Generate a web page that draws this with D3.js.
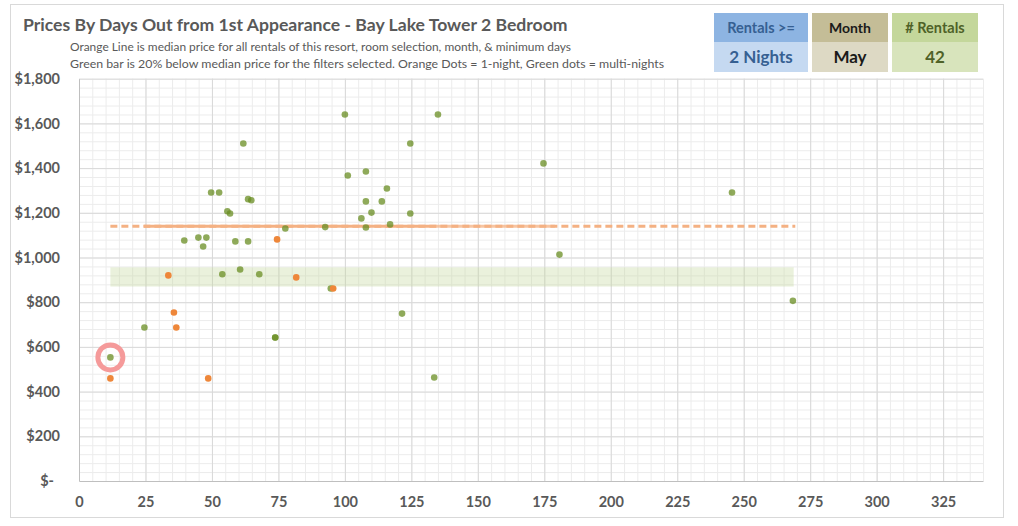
<!DOCTYPE html>
<html>
<head>
<meta charset="utf-8">
<script src="https://cdn.jsdelivr.net/npm/d3@7"></script>
<style>
  html, body { margin: 0; padding: 0; background: #fff; }
  svg { display: block; font-family: Lato, "Open Sans", sans-serif; }
</style>
</head>
<body>
<svg id="chart" width="1018" height="526"></svg>
<script>
// days out / price for 1-night rentals (orange) and multi-night rentals (green)
const oneNightDays   = [11.8, 33.6, 35.7, 36.6, 48.6, 74.5, 81.7, 95.6];
const oneNightPrices = [459, 920, 754, 687, 459, 1081, 911, 861];

const multiNightDays   = [11.8, 24.6, 39.6, 44.9, 46.7, 47.9, 49.7, 52.7, 53.9, 55.8, 56.8, 58.8, 60.6, 61.8,
                          63.6, 63.6, 64.8, 67.8, 73.8, 73.8, 77.6, 92.6, 94.7, 100, 101.1, 106.2, 107.9, 107.9,
                          107.9, 110, 113.9, 115.8, 117, 121.5, 124.6, 124.6, 133.6, 135, 174.7, 180.7, 245.6, 268.5];
const multiNightPrices = [553, 687, 1076, 1089, 1049, 1089, 1291, 1291, 925, 1207, 1197, 1072, 946, 1510,
                          1261, 1072, 1256, 925, 642, 642, 1130, 1136, 861, 1640, 1367, 1175, 1385, 1251,
                          1134, 1201, 1251, 1309, 1148, 749, 1510, 1197, 463, 1640, 1421, 1013, 1291, 806];

const medianPrice = 1140;
const medianSpanDashed = [11.8, 269.4];
const medianSpanSolid = [24.4, 134.5];
const medianSpanFaint = [134.5, 179];
const bandLow = 870, bandHigh = 956;
const bandSpan = [11.8, 268.8];

const highlightDay = 11.8, highlightPrice = 553;

const xTicks = [0, 25, 50, 75, 100, 125, 150, 175, 200, 225, 250, 275, 300, 325];
const yTicks = [0, 200, 400, 600, 800, 1000, 1200, 1400, 1600, 1800];

const titleText = "Prices By Days Out from 1st Appearance - Bay Lake Tower 2 Bedroom";
const subtitleLines = [
  "Orange Line is median price for all rentals of this resort, room selection, month, & minimum days",
  "Green bar is 20% below median price for the filters selected. Orange Dots = 1-night, Green dots = multi-nights"
];

const filterHeads  = ["Rentals >=", "Month", "# Rentals"];
const filterValues = ["2 Nights", "May", "42"];

const svg = d3.select("#chart");

// outer chart border
svg.append("rect")
  .attr("x", 10.5).attr("y", 4.5)
  .attr("width", 993).attr("height", 513)
  .attr("fill", "#fff").attr("stroke", "#d9d9d9");

const x = d3.scaleLinear().domain([0, 340]).range([79, 983]);
const y = d3.scaleLinear().domain([0, 1800]).range([481, 78.7]);

// minor + major gridlines
const grid = svg.append("g");
grid.append("g")
  .attr("transform", `translate(0,${y(0)})`)
  .call(d3.axisBottom(x).tickValues(d3.range(5, 341, 5)).tickSize(-(y(0) - y(1800))).tickFormat(""))
  .call(g => g.select(".domain").remove())
  .call(g => g.selectAll("line").attr("stroke", "#ececec"));
grid.append("g")
  .attr("transform", `translate(${x(0)},0)`)
  .call(d3.axisLeft(y).tickValues(d3.range(40, 1801, 40)).tickSize(-(x(340) - x(0))).tickFormat(""))
  .call(g => g.select(".domain").remove())
  .call(g => g.selectAll("line").attr("stroke", "#ececec"));
grid.append("g")
  .attr("transform", `translate(0,${y(0)})`)
  .call(d3.axisBottom(x).tickValues(xTicks.slice(1)).tickSize(-(y(0) - y(1800))).tickFormat(""))
  .call(g => g.select(".domain").remove())
  .call(g => g.selectAll("line").attr("stroke", "#d9d9d9"));
grid.append("g")
  .attr("transform", `translate(${x(0)},0)`)
  .call(d3.axisLeft(y).tickValues(yTicks.slice(1)).tickSize(-(x(340) - x(0))).tickFormat(""))
  .call(g => g.select(".domain").remove())
  .call(g => g.selectAll("line").attr("stroke", "#d9d9d9"));

// axes
const xAxis = svg.append("g")
  .attr("transform", `translate(0,${y(0)})`)
  .call(d3.axisBottom(x).tickValues(xTicks).tickSize(0).tickPadding(16));
xAxis.select(".domain").attr("stroke", "#bfbfbf");

const yAxis = svg.append("g")
  .attr("transform", `translate(${x(0)},0)`)
  .call(d3.axisLeft(y).tickValues(yTicks).tickSize(0).tickPadding(19)
    .tickFormat(d => d === 0 ? "$-" : "$" + d3.format(",")(d)));
yAxis.select(".domain").attr("stroke", "#bfbfbf");
yAxis.selectAll(".tick text").filter(d => d === 0).attr("dx", -6);

svg.selectAll(".tick text")
  .attr("fill", "#595959")
  .style("font-size", "14.5px")
  .style("font-weight", "bold")
  .style("font-family", "Lato, sans-serif");

// green band: 20% below median
svg.append("rect")
  .attr("x", x(bandSpan[0])).attr("width", x(bandSpan[1]) - x(bandSpan[0]))
  .attr("y", y(bandHigh)).attr("height", y(bandLow) - y(bandHigh))
  .attr("fill", "#c4d79b").attr("fill-opacity", 0.35);

// median line
const med = svg.append("g").attr("stroke", "#f4b183").attr("stroke-width", 3);
med.append("line")
  .attr("x1", x(medianSpanDashed[0])).attr("x2", x(medianSpanDashed[1]))
  .attr("y1", y(medianPrice)).attr("y2", y(medianPrice))
  .attr("stroke-dasharray", "7,4");
med.append("line")
  .attr("x1", x(medianSpanSolid[0])).attr("x2", x(medianSpanSolid[1]))
  .attr("y1", y(medianPrice)).attr("y2", y(medianPrice));
med.append("line")
  .attr("x1", x(medianSpanFaint[0])).attr("x2", x(medianSpanFaint[1]))
  .attr("y1", y(medianPrice)).attr("y2", y(medianPrice))
  .attr("stroke-opacity", 0.75);

// dots
svg.append("g").selectAll("circle")
  .data(multiNightDays.map((d, i) => [d, multiNightPrices[i]]))
  .join("circle")
  .attr("cx", d => x(d[0])).attr("cy", d => y(d[1]))
  .attr("r", 3.3).attr("fill", "#6a8e23").attr("fill-opacity", 0.75);

svg.append("g").selectAll("circle")
  .data(oneNightDays.map((d, i) => [d, oneNightPrices[i]]))
  .join("circle")
  .attr("cx", d => x(d[0])).attr("cy", d => y(d[1]))
  .attr("r", 3.3).attr("fill", "#ee873a");

// highlight ring
svg.append("circle")
  .attr("cx", x(highlightDay)).attr("cy", y(highlightPrice))
  .attr("r", 12.5)
  .attr("fill", "none").attr("stroke", "#f59a9a").attr("stroke-width", 5);

// title and notes
svg.append("text")
  .attr("x", 23).attr("y", 31)
  .attr("fill", "#595959")
  .style("font-size", "17.6px").style("font-weight", "bold")
  .text(titleText);

const subWidths = [501, 594];
svg.selectAll(".sub")
  .data(subtitleLines)
  .join("text")
  .attr("class", "sub")
  .attr("x", 70).attr("y", (d, i) => 51 + i * 17)
  .attr("fill", "#595959")
  .attr("textLength", (d, i) => subWidths[i])
  .attr("lengthAdjust", "spacingAndGlyphs")
  .style("font-size", "12px")
  .text(d => d);

// filter boxes
const boxes = [
  { x: 714, w: 94, head: "#8db4e2", body: "#c5d9f1", ink: "#366092" },
  { x: 812, w: 76, head: "#c4bd97", body: "#ddd9c4", ink: "#1a1a1a" },
  { x: 892, w: 86, head: "#c4d79b", body: "#d8e4bc", ink: "#4f6228" }
];
const box = svg.selectAll(".box")
  .data(boxes)
  .join("g")
  .attr("class", "box");
box.append("rect")
  .attr("x", d => d.x).attr("y", 13).attr("width", d => d.w).attr("height", 29)
  .attr("fill", d => d.head);
box.append("rect")
  .attr("x", d => d.x).attr("y", 42).attr("width", d => d.w).attr("height", 30)
  .attr("fill", d => d.body);
box.append("text")
  .attr("x", d => d.x + d.w / 2).attr("y", 33)
  .attr("text-anchor", "middle")
  .attr("fill", d => d.ink)
  .style("font-size", (d, i) => i === 1 ? "14px" : "14.5px").style("font-weight", "bold")
  .text((d, i) => filterHeads[i]);
box.append("text")
  .attr("x", d => d.x + d.w / 2).attr("y", 63)
  .attr("text-anchor", "middle")
  .attr("fill", d => d.ink)
  .style("font-size", "17px").style("font-weight", "bold")
  .text((d, i) => filterValues[i]);
</script>
</body>
</html>
